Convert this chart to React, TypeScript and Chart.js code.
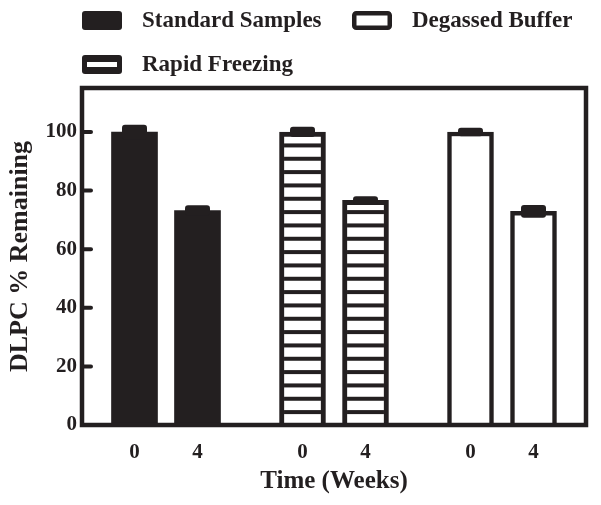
import { useEffect, useRef } from 'react';
import { Chart, registerables } from 'chart.js';

Chart.register(...registerables);

// ---- data ----
const weekLabels = ['0', '4'];
const groupNames = ['Standard Samples', 'Rapid Freezing', 'Degassed Buffer'];
const standardValues = [100, 73.2];
const standardErrors = [1.7, 1.0];
const rapidValues = [100, 76.7];
const rapidErrors = [1.0, 0.6];
const degassedValues = [100, 72.9];
const degassedErrors = [0.7, 1.4];
const yTickValues = [0, 20, 40, 60, 80, 100];

const seriesValues = [standardValues, rapidValues, degassedValues];
const seriesErrors = [standardErrors, rapidErrors, degassedErrors];

// ---- layout / style ----
const INK = '#231f20';
const FONT = "'Liberation Serif', 'Times New Roman', serif";
const SLOTS_PER_GROUP = 8;
const barPos = (g: number, w: number) => g * SLOTS_PER_GROUP + w * 3 + 2.5;
const barPositions: number[] = [];
const tickLabels: string[] = [];
groupNames.forEach((_, g) =>
  weekLabels.forEach((lab, w) => {
    barPositions.push(barPos(g, w));
    tickLabels.push(lab);
  })
);

// legend layout: [group index, box x, box y]
const legendLayout: [number, number, number][] = [
  [0, 82, 11],
  [2, 352, 11],
  [1, 82, 55],
];

function makeStripePattern(ctx: CanvasRenderingContext2D) {
  const c = document.createElement('canvas');
  c.width = 8;
  c.height = 40;
  const g = c.getContext('2d')!;
  g.fillStyle = '#ffffff';
  g.fillRect(0, 0, 8, 40);
  g.fillStyle = INK;
  const period = 40 / 3;
  const phase = 10.1;
  for (let k = -1; k < 4; k++) g.fillRect(0, phase + k * period, 8, 4);
  return ctx.createPattern(c, 'repeat')!;
}

const framePlugin = {
  id: 'frameAndErrors',
  afterDatasetsDraw(chart: any) {
    const { ctx, chartArea, scales } = chart;
    const y = scales.y;
    ctx.save();
    ctx.strokeStyle = INK;
    ctx.lineWidth = 4.5;
    ctx.lineJoin = 'miter';
    ctx.strokeRect(chartArea.left, chartArea.top, chartArea.right - chartArea.left, chartArea.bottom - chartArea.top);
    // inward tick marks on the y axis
    ctx.lineWidth = 4;
    ctx.lineCap = 'round';
    y.ticks.forEach((t: any) => {
      const py = y.getPixelForValue(t.value);
      if (t.value === 0) return;
      ctx.beginPath();
      ctx.moveTo(chartArea.left, py);
      ctx.lineTo(chartArea.left + 9, py);
      ctx.stroke();
    });
    chart.data.datasets.forEach((ds: any, di: number) => {
      const meta = chart.getDatasetMeta(di);
      meta.data.forEach((bar: any, i: number) => {
        const v = seriesValues[di][i];
        const e = seriesErrors[di][i];
        const top = y.getPixelForValue(v + e) - 2.2;
        const bot = y.getPixelForValue(v - e) + 2.2;
        ctx.fillStyle = INK;
        ctx.beginPath();
        ctx.roundRect(bar.x - 12.5, top, 25, bot - top, 3);
        ctx.fill();
      });
    });
    ctx.restore();
  },
};

const legendPlugin = {
  id: 'customLegend',
  afterDraw(chart: any) {
    const { ctx } = chart;
    ctx.save();
    legendLayout.forEach(([g, x, y]) => {
      const w = 40;
      const h = 19;
      ctx.fillStyle = INK;
      ctx.strokeStyle = INK;
      if (g === 0) {
        ctx.beginPath();
        ctx.roundRect(x, y, w, h, 3);
        ctx.fill();
      } else if (g === 2) {
        ctx.lineWidth = 4.5;
        ctx.beginPath();
        ctx.roundRect(x + 2.25, y + 2.25, w - 4.5, h - 4.5, 2);
        ctx.stroke();
      } else {
        ctx.beginPath();
        ctx.roundRect(x, y, w, h, 3);
        ctx.fill();
        ctx.fillStyle = '#ffffff';
        ctx.fillRect(x + 5, y + 7, w - 10, 5);
      }
      ctx.fillStyle = INK;
      ctx.font = `bold 23px ${FONT}`;
      ctx.textBaseline = 'middle';
      ctx.textAlign = 'left';
      ctx.fillText(groupNames[g], x + 60, y + h / 2 + 1);
    });
    ctx.restore();
  },
};

export default function App() {
  const ref = useRef<HTMLCanvasElement | null>(null);

  useEffect(() => {
    const canvas = ref.current!;
    const ctx = canvas.getContext('2d')!;
    const stripes = makeStripePattern(ctx);
    const fills: any[] = [INK, stripes, '#ffffff'];
    const borders = [0, 5, 4.5];

    const chart = new Chart(canvas, {
      type: 'bar',
      data: {
        datasets: groupNames.map((name, g) => ({
          label: name,
          data: seriesValues[g].map((v, w) => ({ x: barPos(g, w), y: v })),
          backgroundColor: fills[g],
          borderColor: INK,
          borderWidth: borders[g],
          barThickness: 46,
          grouped: false,
        })),
      },
      options: {
        responsive: false,
        animation: false,
        devicePixelRatio: 1,
        layout: { padding: { top: 88, right: 15, left: 0, bottom: 0 } },
        plugins: { legend: { display: false }, tooltip: { enabled: false } },
        scales: {
          x: {
            type: 'linear',
            offset: false,
            min: 0,
            max: groupNames.length * SLOTS_PER_GROUP,
            afterBuildTicks: (axis: any) => {
              axis.ticks = barPositions.map((v) => ({ value: v }));
            },
            afterFit: (s: any) => {
              s.height = 80;
            },
            ticks: {
              autoSkip: false,
              maxRotation: 0,
              padding: 15,
              color: INK,
              font: { family: FONT, size: 21, weight: 'bold' },
              callback: (_v: any, i: number) => tickLabels[i],
            },
            grid: { display: false, drawTicks: false },
            border: { display: false },
            title: {
              display: true,
              text: 'Time (Weeks)',
              color: INK,
              font: { family: FONT, size: 25, weight: 'bold' },
              padding: { top: 0, bottom: 8 },
            },
          },
          y: {
            min: 0,
            max: 115,
            afterBuildTicks: (axis: any) => {
              axis.ticks = yTickValues.map((v) => ({ value: v }));
            },
            afterFit: (s: any) => {
              s.width = 82;
            },
            ticks: {
              padding: 5,
              color: INK,
              font: { family: FONT, size: 21, weight: 'bold' },
            },
            grid: { display: true, drawOnChartArea: false, drawTicks: false },
            border: { display: false },
            title: {
              display: true,
              text: 'DLPC % Remaining',
              color: INK,
              font: { family: FONT, size: 26, weight: 'bold' },
              padding: { top: 5, bottom: 0 },
            },
          },
        },
      } as any,
      plugins: [framePlugin, legendPlugin],
    });
    return () => chart.destroy();
  }, []);

  return (
    <div style={{ position: 'absolute', left: 0, top: 0, width: 601, height: 505 }}>
      <canvas ref={ref} width={601} height={505} style={{ display: 'block', width: 601, height: 505 }} />
    </div>
  );
}
